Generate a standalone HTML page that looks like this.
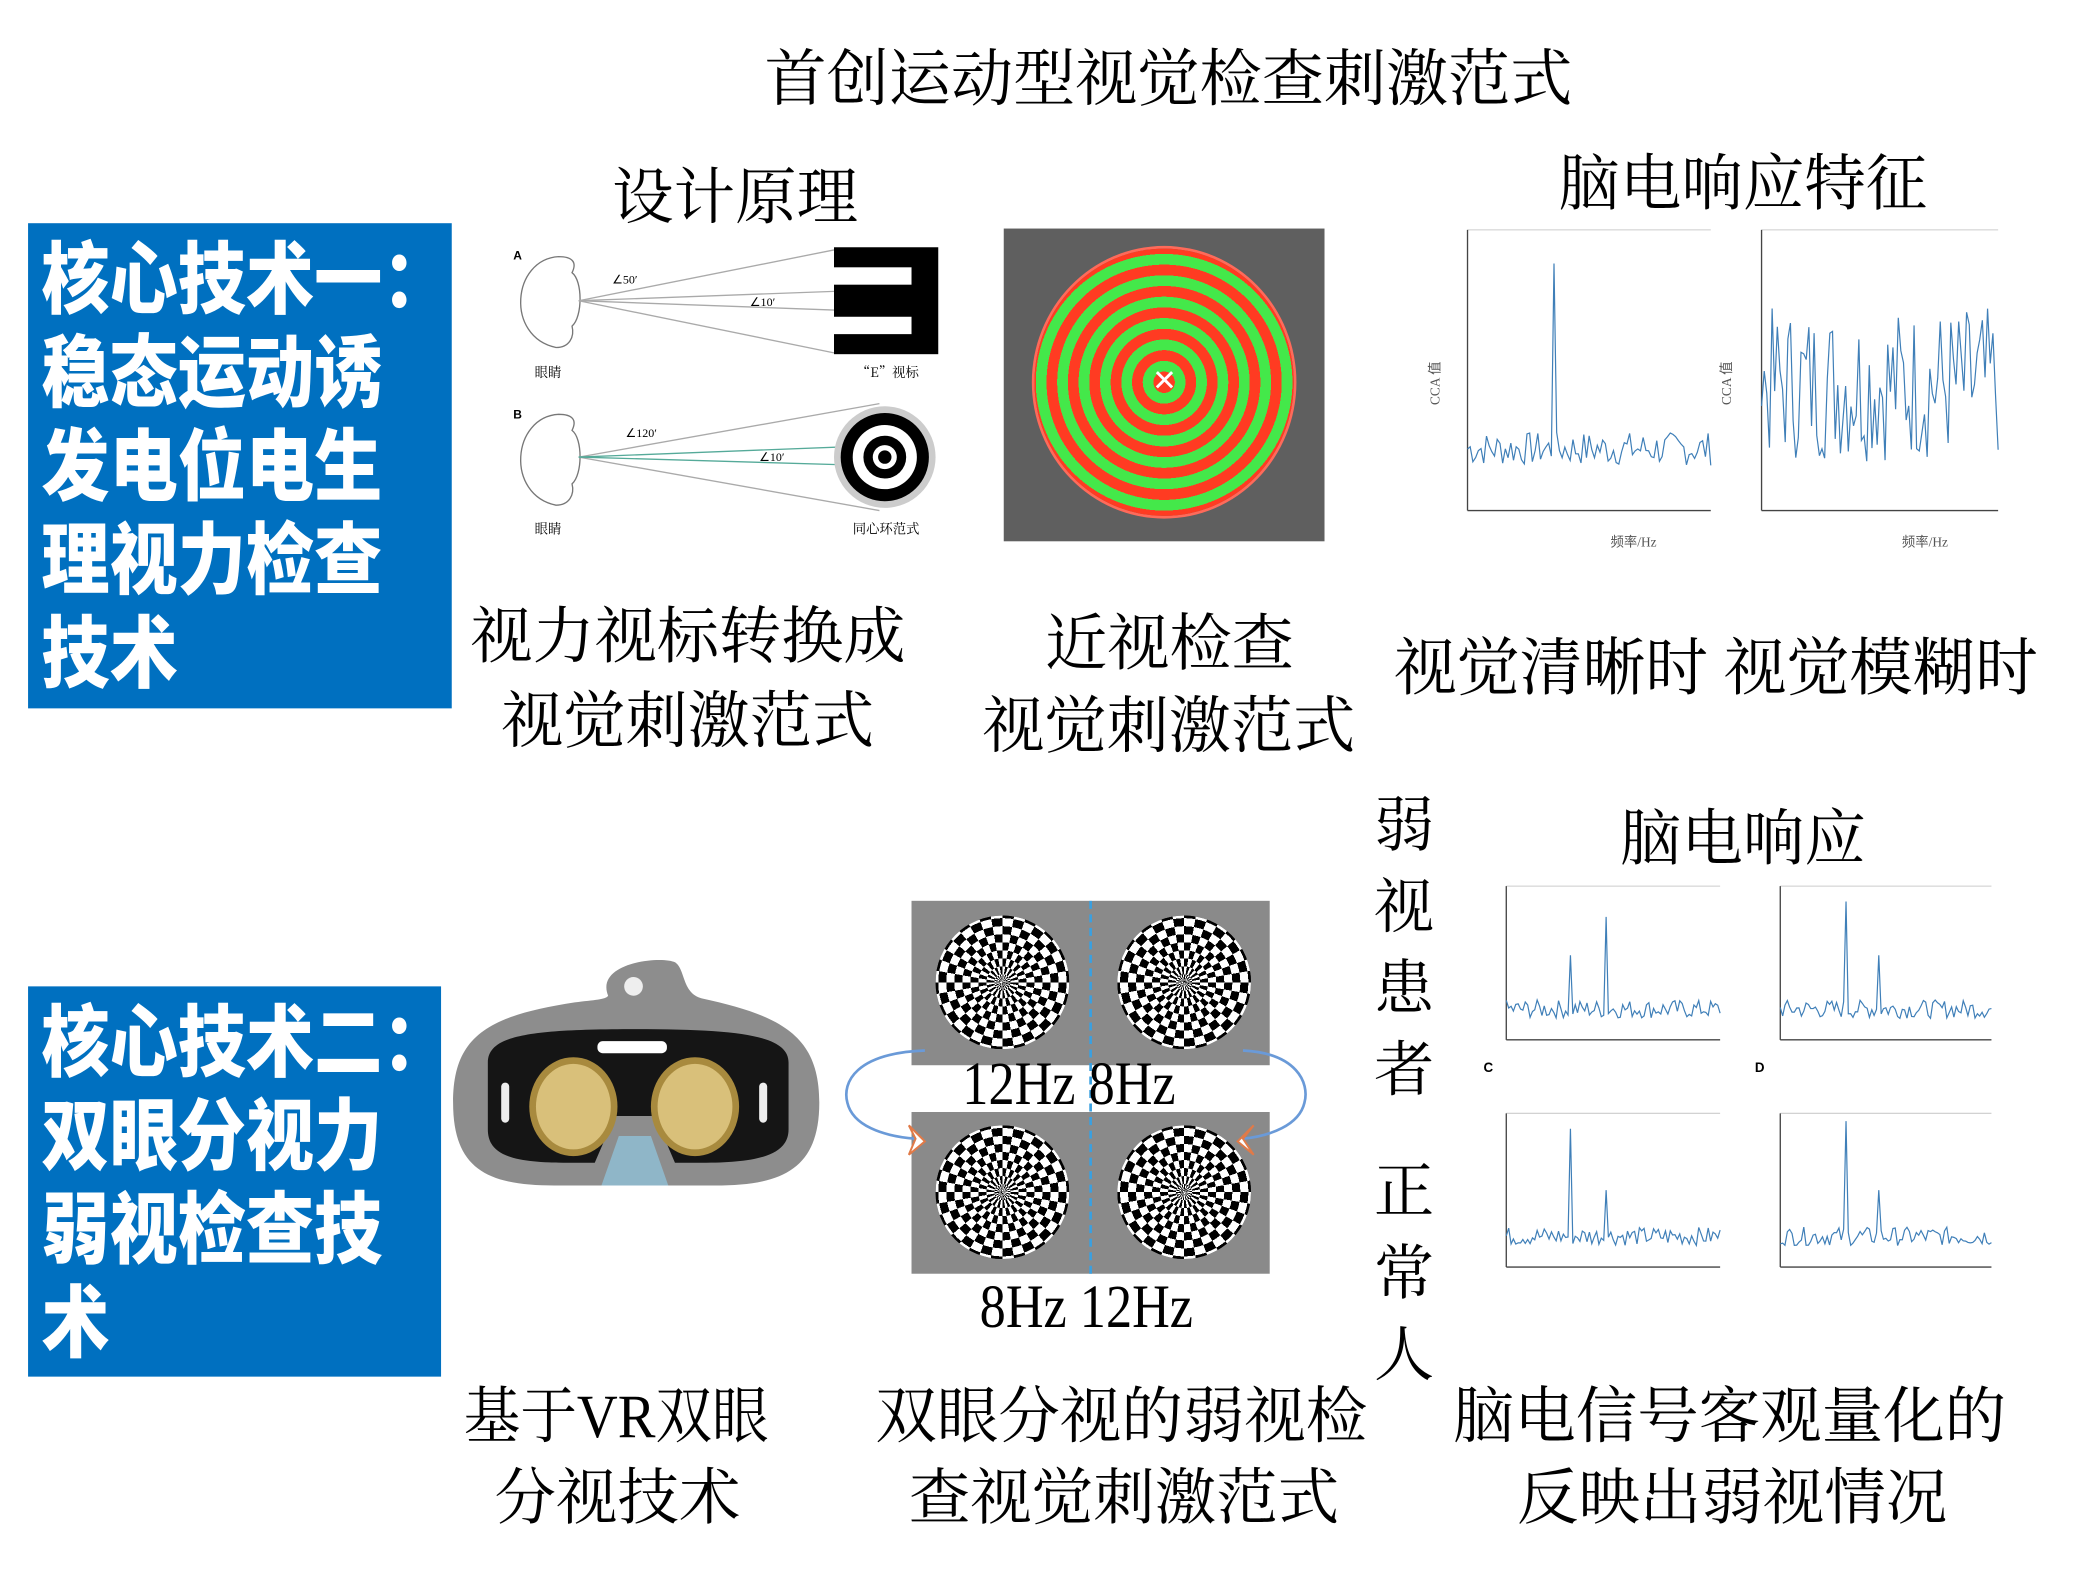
<!DOCTYPE html>
<html><head><meta charset="utf-8">
<style>
html,body{margin:0;padding:0;background:#fff;width:2085px;height:1573px;overflow:hidden}
#s{position:absolute;left:0;top:0;width:1560px;height:1177px;transform:scale(1.33654);transform-origin:0 0}
.t{position:absolute;font-family:"Liberation Serif","Noto Serif CJK SC",serif;color:#000;white-space:nowrap;line-height:1}
.box{position:absolute;background:#0070C0;color:#fff;font-family:"Liberation Sans","Noto Sans CJK SC",sans-serif;font-weight:900;font-size:51px;line-height:70px;padding:8px 0 0 10px;box-sizing:border-box;white-space:nowrap;overflow:hidden}
.box span{display:block;transform:scaleY(1.15);transform-origin:0 50%}
.chk{position:absolute;width:100px;height:100px;border-radius:50%;overflow:hidden;isolation:isolate}
.chk .a,.chk .b{position:absolute;inset:0}
.chk .a{background:repeating-conic-gradient(#000 0 10deg,#fff 10deg 20deg)}
.chk .b{background:repeating-radial-gradient(circle,#000 0 6px,#fff 6px 12px);mix-blend-mode:difference}
.panel{position:absolute;background:#8a8a8a}
svg{position:absolute}
</style></head><body><div id="s">

<div class="t" style="left:572px;top:38px;font-size:46.5px">首创运动型视觉检查刺激范式</div>

<div class="box" style="left:21px;top:167px;width:317px;height:363px"><span>核心技术一：</span><span>稳态运动诱</span><span>发电位电生</span><span>理视力检查</span><span>技术</span></div>

<div class="t" style="left:458px;top:125px;font-size:46px">设计原理</div>

<svg style="left:378px;top:182px" width="330" height="222" viewBox="0 0 330 222">
<text x="6" y="12" font-size="9" font-family="Liberation Sans" font-weight="bold">A</text>
<path d="M40 10 C5 12 0 70 38 78 C48 78 52 70 50 62 C58 55 58 28 50 22 C54 14 50 10 40 10Z" fill="none" stroke="#777"/>
<line x1="55" y1="43" x2="246" y2="5" stroke="#aaa"/><line x1="55" y1="43" x2="246" y2="82" stroke="#aaa"/>
<line x1="55" y1="43" x2="246" y2="36" stroke="#aaa"/><line x1="55" y1="43" x2="246" y2="50" stroke="#aaa"/>
<text x="80" y="30" font-size="9">∠50′</text><text x="183" y="47" font-size="9">∠10′</text>
<rect x="246" y="3" width="78" height="80" fill="#000"/><rect x="246" y="18" width="58" height="13" fill="#fff"/><rect x="246" y="55" width="58" height="13" fill="#fff"/>
<text x="22" y="100" font-size="10" font-family="Noto Serif CJK SC">眼睛</text><text x="263" y="100" font-size="10" font-family="Noto Serif CJK SC">“E”视标</text>
<text x="6" y="131" font-size="9" font-family="Liberation Sans" font-weight="bold">B</text>
<path d="M40 128 C5 130 0 188 38 196 C48 196 52 188 50 180 C58 173 58 146 50 140 C54 132 50 128 40 128Z" fill="none" stroke="#777"/>
<line x1="55" y1="160" x2="280" y2="120" stroke="#aaa"/><line x1="55" y1="160" x2="280" y2="200" stroke="#aaa"/>
<line x1="55" y1="160" x2="262" y2="152" stroke="#5a9"/><line x1="55" y1="160" x2="262" y2="166" stroke="#5a9"/>
<text x="90" y="145" font-size="9">∠120′</text><text x="190" y="163" font-size="9">∠10′</text>
<circle cx="284" cy="160" r="38" fill="#ccc"/><circle cx="284" cy="160" r="33" fill="#000"/><circle cx="284" cy="160" r="24" fill="#fff"/><circle cx="284" cy="160" r="16" fill="#000"/><circle cx="284" cy="160" r="9" fill="#fff"/><circle cx="284" cy="160" r="5" fill="#000"/>
<text x="22" y="217" font-size="10" font-family="Noto Serif CJK SC">眼睛</text><text x="260" y="217" font-size="10" font-family="Noto Serif CJK SC">同心环范式</text>
</svg>

<div style="position:absolute;left:751px;top:171px;width:240px;height:234px;background:#5f5f5f"></div>
<div style="position:absolute;left:774px;top:186px;width:194px;height:200px;border-radius:50%;background:repeating-radial-gradient(circle at 50% 50%,#ff3b22 0 8px,#44e84a 8px 16px);box-shadow:0 0 0 2px #ff6a5a"></div>
<div class="t" style="left:862px;top:274px;font-size:22px;color:#fff;font-family:'Liberation Sans'">✕</div>

<div class="t" style="left:1166px;top:115px;font-size:46px">脑电响应特征</div>
<svg id="c1" style="left:1065px;top:165px" width="440" height="250"></svg>

<div class="t" style="left:352px;top:455px;font-size:46.5px">视力视标转换成</div>
<div class="t" style="left:375px;top:518px;font-size:46.5px">视觉刺激范式</div>
<div class="t" style="left:782px;top:460px;font-size:46.5px">近视检查</div>
<div class="t" style="left:735px;top:522px;font-size:46.5px">视觉刺激范式</div>
<div class="t" style="left:1043px;top:478px;font-size:47px">视觉清晰时 视觉模糊时</div>

<div class="t" style="left:1028px;top:588px;font-size:45px;line-height:61px;white-space:normal;width:48px">弱<br>视<br>患<br>者</div>
<div class="t" style="left:1028px;top:862px;font-size:45px;line-height:61px;white-space:normal;width:48px">正<br>常<br>人</div>

<div class="t" style="left:1212px;top:605px;font-size:46px">脑电响应</div>

<div class="box" style="left:21px;top:738px;width:309px;height:292px"><span>核心技术二：</span><span>双眼分视力</span><span>弱视检查技</span><span>术</span></div>

<svg style="left:335px;top:715px" width="282" height="180" viewBox="0 0 282 180">
<path d="M120 30 C110 5 160 0 170 5 C178 10 175 28 190 32 C250 45 278 60 278 110 C278 160 250 172 200 172 L80 172 C30 172 4 160 4 110 C4 60 30 45 95 35 C110 33 118 33 120 30Z" fill="#8d8d8d"/>
<circle cx="139" cy="23" r="7" fill="#eee"/>
<path d="M30 80 C30 60 60 55 140 55 C220 55 255 60 255 80 L255 130 C255 150 230 155 190 155 L170 155 L155 120 L125 120 L110 155 L90 155 C50 155 30 150 30 130Z" fill="#151515"/>
<rect x="112" y="64" width="52" height="9" rx="4" fill="#fff"/>
<rect x="40" y="95" width="6" height="30" rx="3" fill="#eee"/><rect x="233" y="95" width="6" height="30" rx="3" fill="#eee"/>
<ellipse cx="94" cy="113" rx="33" ry="37" fill="#a88a3e"/><ellipse cx="94" cy="113" rx="28" ry="32" fill="#d9c07a"/>
<ellipse cx="185" cy="113" rx="33" ry="37" fill="#a88a3e"/><ellipse cx="185" cy="113" rx="28" ry="32" fill="#d9c07a"/>
<path d="M115 172 L128 135 L152 135 L165 172Z" fill="#8fb6c8"/>
</svg>

<div class="panel" style="left:682px;top:674px;width:268px;height:123px"></div>
<div class="panel" style="left:682px;top:832px;width:268px;height:121px"></div>
<div class="chk" style="left:700px;top:685px"><div class="a"></div><div class="b"></div></div>
<div class="chk" style="left:836px;top:685px"><div class="a"></div><div class="b"></div></div>
<div class="chk" style="left:700px;top:842px"><div class="a"></div><div class="b"></div></div>
<div class="chk" style="left:836px;top:842px"><div class="a"></div><div class="b"></div></div>
<div style="position:absolute;left:815px;top:674px;width:0;height:279px;border-left:2px dashed #3aa0e0"></div>
<svg style="left:630px;top:780px" width="350" height="90">
<path d="M62 6 C10 8 0 30 4 45 C8 62 30 70 55 72" fill="none" stroke="#6a9ad8" stroke-width="2"/>
<path d="M55 72 L50 62 L62 74 L50 84Z" fill="#fff" stroke="#e07a48" stroke-width="1.5"/>
<path d="M300 6 C340 8 350 30 346 45 C342 62 320 70 300 72" fill="none" stroke="#6a9ad8" stroke-width="2"/>
<path d="M300 72 L308 62 L296 74 L308 84Z" fill="#fff" stroke="#e07a48" stroke-width="1.5"/>
</svg>
<div class="t" style="left:720px;top:788px;font-size:46px;transform:scaleX(.85);transform-origin:0 0">12Hz 8Hz</div>
<div class="t" style="left:733px;top:955px;font-size:46px;transform:scaleX(.85);transform-origin:0 0">8Hz 12Hz</div>

<svg id="c2" style="left:1095px;top:655px" width="410" height="320"></svg>

<div class="t" style="left:347px;top:1037px;font-size:46px;transform:scaleX(.92);transform-origin:0 0">基于VR双眼</div>
<div class="t" style="left:370px;top:1098px;font-size:46px">分视技术</div>
<div class="t" style="left:655px;top:1037px;font-size:46px">双眼分视的弱视检</div>
<div class="t" style="left:680px;top:1098px;font-size:46px">查视觉刺激范式</div>
<div class="t" style="left:1087px;top:1037px;font-size:46px">脑电信号客观量化的</div>
<div class="t" style="left:1135px;top:1098px;font-size:46px">反映出弱视情况</div>
</div>
<script>
var seed=7;function r(){seed=(seed*9301+49297)%233280;return seed/233280;}
function chart(svg,x0,y0,w,h,base,amp,peaks,ticks){
 var n=90,p=[];for(var i=0;i<=n;i++){var v=base+(r()-0.5)*amp;peaks.forEach(function(k){if(Math.abs(i-k[0])<1)v=k[1];});p.push((x0+i*w/n).toFixed(1)+','+(y0+h-v*h).toFixed(1));}
 var s='<line x1="'+x0+'" y1="'+y0+'" x2="'+(x0+w)+'" y2="'+y0+'" stroke="#ccc" stroke-width="0.8"/>';
 s+='<line x1="'+x0+'" y1="'+y0+'" x2="'+x0+'" y2="'+(y0+h)+'" stroke="#444"/><line x1="'+x0+'" y1="'+(y0+h)+'" x2="'+(x0+w)+'" y2="'+(y0+h)+'" stroke="#444"/>';
 s+='<polyline points="'+p.join(' ')+'" fill="none" stroke="#3f7fb8" stroke-width="0.9"/>';
 return s;}
var c1=document.getElementById('c1');var h='';
h+=chart(c1,33,7,182,210,0.22,0.12,[[32,0.88]]);
h+=chart(c1,253,7,177,210,0.45,0.55,[]);
h+='<text x="4" y="130" font-size="10" fill="#555" transform="rotate(-90 12 130)">CCA 值</text><text x="222" y="130" font-size="10" fill="#555" transform="rotate(-90 230 130)">CCA 值</text>';
h+='<text x="140" y="244" font-size="10" fill="#555">频率/Hz</text><text x="358" y="244" font-size="10" fill="#555">频率/Hz</text>';
c1.innerHTML=h;
var c2=document.getElementById('c2');h='';
h+=chart(c2,32,8,160,115,0.2,0.12,[[27,0.55],[42,0.8]]);
h+=chart(c2,237,8,158,115,0.2,0.12,[[28,0.9],[42,0.55]]);
h+=chart(c2,32,178,160,115,0.2,0.12,[[27,0.9],[42,0.5]]);
h+=chart(c2,237,178,158,115,0.2,0.12,[[28,0.95],[42,0.5]]);
h+='<text x="15" y="147" font-size="10" font-family="Liberation Sans" font-weight="bold">C</text><text x="218" y="147" font-size="10" font-family="Liberation Sans" font-weight="bold">D</text>';
c2.innerHTML=h;
</script>
</body></html>
